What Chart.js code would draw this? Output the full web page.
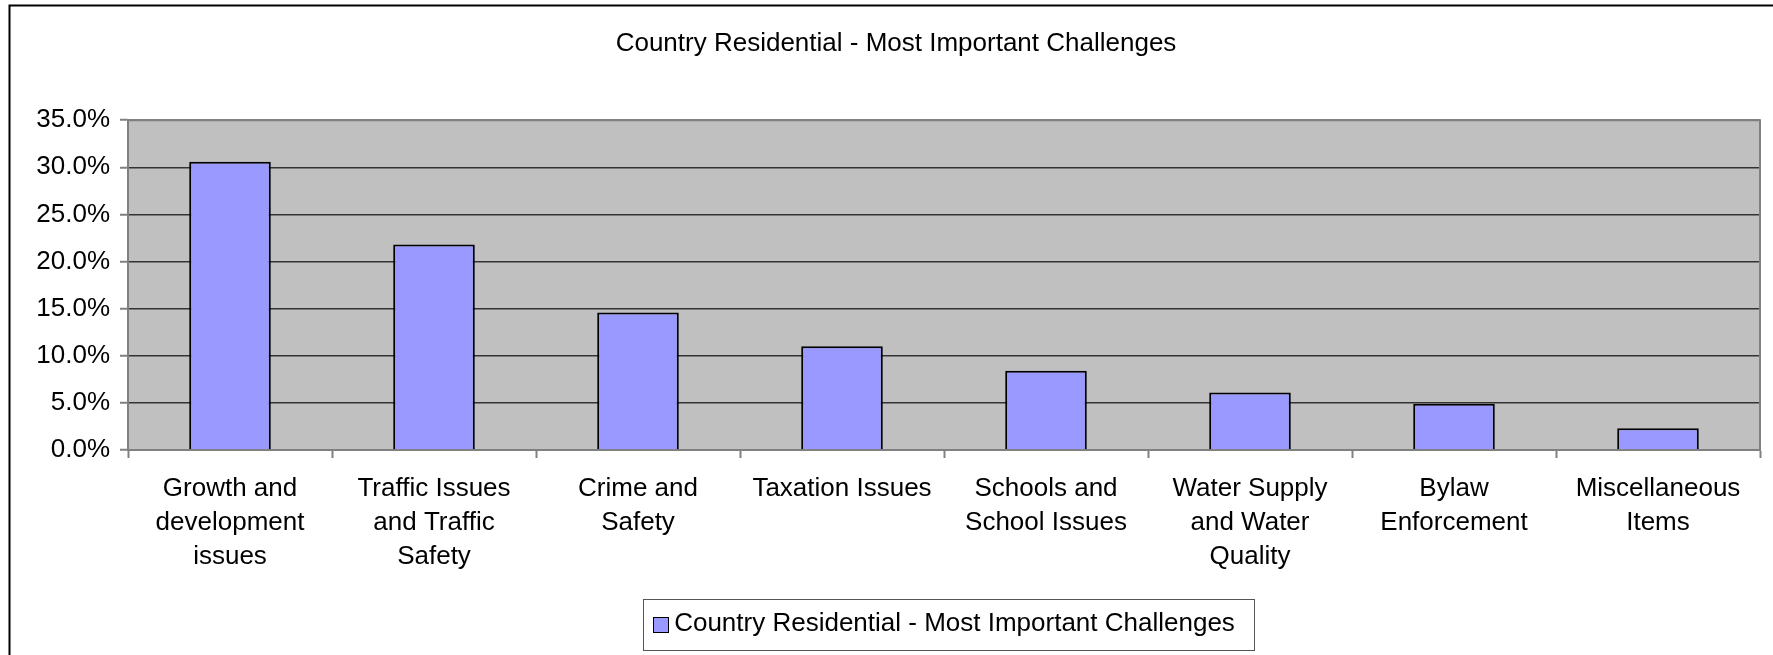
<!DOCTYPE html>
<html>
<head>
<meta charset="utf-8">
<script src="https://cdn.jsdelivr.net/npm/chart.js@4.4.1/dist/chart.umd.min.js"></script>
<style>
    body { margin: 0; background: #fff; overflow: hidden; }
    #grafico { position: absolute; left: 0; top: 0; }
</style>
</head>
<body>
<canvas id="grafico" width="1790" height="655"></canvas>
<script>
// Dados
var categorias = [
    ["Growth and", "development", "issues"],
    ["Traffic Issues", "and Traffic", "Safety"],
    ["Crime and", "Safety"],
    ["Taxation Issues"],
    ["Schools and", "School Issues"],
    ["Water Supply", "and Water", "Quality"],
    ["Bylaw", "Enforcement"],
    ["Miscellaneous", "Items"]
];
var valores = [30.6, 21.8, 14.6, 11.0, 8.4, 6.1, 4.9, 2.3];
var titulo = "Country Residential - Most Important Challenges";
var nomeSerie = "Country Residential - Most Important Challenges";
var yMin = 0, yMax = 35, yPasso = 5;

var fonte = "'Liberation Sans', Arial, sans-serif";
var corBarra = '#9999FF';
Chart.defaults.font.family = fonte;
Chart.defaults.color = '#000';

// fundo cinzento da área do gráfico + molduras + legenda
var fundoPlugin = {
    id: 'fundo',
    beforeDraw: function(chart) {
        var ctx = chart.ctx, a = chart.chartArea;
        ctx.save();
        ctx.fillStyle = '#C0C0C0';
        ctx.fillRect(a.left, a.top, a.right - a.left, a.bottom - a.top);
        ctx.restore();
    },
    afterDraw: function(chart) {
        var ctx = chart.ctx, a = chart.chartArea;
        ctx.save();
        // borda do plot (topo e direita)
        ctx.strokeStyle = '#808080';
        ctx.lineWidth = 2;
        ctx.beginPath();
        ctx.moveTo(a.left, a.top);
        ctx.lineTo(a.right, a.top);
        ctx.lineTo(a.right, a.bottom);
        ctx.stroke();
        // moldura exterior
        ctx.strokeStyle = '#000';
        ctx.lineWidth = 2;
        ctx.beginPath();
        ctx.moveTo(9.5, chart.height + 5);
        ctx.lineTo(9.5, 5.5);
        ctx.lineTo(chart.width + 5, 5.5);
        ctx.stroke();
        // caixa da legenda e quadrado da série
        var hb = chart.legend.legendHitBoxes[0];
        if (hb) {
            var cy = hb.top + hb.height / 2;
            var qx = Math.round(hb.left);
            ctx.fillStyle = corBarra;
            ctx.fillRect(qx, Math.round(cy - 7.5), 15, 15);
            ctx.strokeStyle = '#000';
            ctx.lineWidth = 1;
            ctx.strokeRect(qx + 0.5, Math.round(cy - 7.5) + 0.5, 15, 15);
            ctx.strokeStyle = '#555';
            ctx.strokeRect(qx - 10 + 0.5, Math.round(cy - 25.5) + 0.5,
                Math.round(hb.left + hb.width + 19 - (qx - 10)), 51);
        }
        ctx.restore();
    }
};

var grafico = new Chart(document.getElementById('grafico'), {
    type: 'bar',
    data: {
        labels: categorias,
        datasets: [{
            label: nomeSerie,
            data: valores,
            backgroundColor: corBarra,
            borderColor: '#000',
            borderWidth: 2,
            barPercentage: 0.4,
            categoryPercentage: 1
        }]
    },
    options: {
        responsive: false,
        animation: false,
        devicePixelRatio: 1,
        layout: { padding: { left: 32, right: 30, top: 0, bottom: 8 } },
        plugins: {
            title: {
                display: true,
                text: titulo,
                font: { size: 26, weight: 'normal', lineHeight: 1.2 },
                color: '#000',
                padding: { top: 28, bottom: 61 }
            },
            legend: {
                position: 'bottom',
                fullSize: false,
                labels: {
                    font: { size: 26 },
                    boxWidth: 8,
                    boxHeight: 16,
                    padding: 8,
                    color: '#000',
                    generateLabels: function(chart) {
                        // o quadrado é desenhado no plugin
                        var itens = Chart.defaults.plugins.legend.labels.generateLabels(chart);
                        itens.forEach(function(i) {
                            i.fillStyle = 'rgba(0,0,0,0)';
                            i.strokeStyle = 'rgba(0,0,0,0)';
                            i.lineWidth = 0;
                        });
                        return itens;
                    }
                }
            },
            tooltip: { enabled: false }
        },
        scales: {
            x: {
                offset: true,
                afterFit: function(s) { s.height = 153; },
                grid: {
                    offset: true,
                    drawOnChartArea: false,
                    drawTicks: true,
                    tickLength: 8,
                    tickColor: '#808080',
                    tickWidth: 2
                },
                border: { color: '#808080', width: 2 },
                ticks: {
                    font: { size: 26, lineHeight: 1.31 },
                    color: '#000',
                    padding: 14,
                    maxRotation: 0,
                    autoSkip: false
                }
            },
            y: {
                min: yMin,
                max: yMax,
                afterFit: function(s) { s.width = 96; },
                grid: {
                    color: function(c) { return c.tick && c.tick.value === yMax ? '#808080' : '#333'; },
                    lineWidth: 1.5,
                    drawTicks: true,
                    tickLength: 8,
                    tickColor: '#808080',
                    tickWidth: 2
                },
                border: { color: '#808080', width: 2 },
                ticks: {
                    stepSize: yPasso,
                    font: { size: 26 },
                    color: '#000',
                    padding: 10,
                    callback: function(v) { return v.toFixed(1) + '%'; }
                }
            }
        }
    },
    plugins: [fundoPlugin]
});
</script>
</body>
</html>
